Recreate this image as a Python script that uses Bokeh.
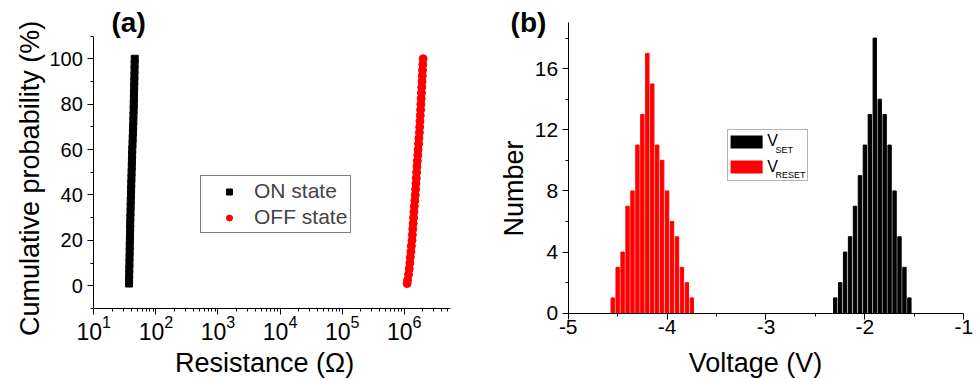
import math
from bokeh.plotting import figure
from bokeh.models import (Range1d, FixedTicker, Legend, LegendItem, Label, BoxAnnotation)
from bokeh.layouts import row
from bokeh.embed import file_html
from bokeh.resources import INLINE

FONT = "Liberation Sans"

# ---------------- Panel (a) data ----------------
cum_prob = [1, 2.5, 5, 7.5, 10, 12.5, 15, 17.5, 20, 22.5, 25, 27.5, 30, 32.5, 35, 37.5,
            40, 42.5, 45, 47.5, 50, 52.5, 55, 57.5, 60, 62.5, 65, 67.5, 70, 72.5, 75,
            77.5, 80, 82.5, 85, 87.5, 90, 92.5, 95, 97.5, 100]
on_res = [36.9, 37.0, 37.2, 37.3, 37.5, 37.6, 37.8, 37.9, 38.1, 38.3, 38.5, 38.6, 38.8,
          39.0, 39.2, 39.4, 39.7, 39.9, 40.1, 40.4, 40.6, 40.9, 41.1, 41.4, 41.6, 42.0,
          42.3, 42.7, 43.0, 43.3, 43.5, 43.8, 44.0, 44.2, 44.4, 44.7, 44.9, 45.1, 45.3,
          45.4, 45.6]
off_res = [1.11e6, 1.13e6, 1.17e6, 1.20e6, 1.23e6, 1.25e6, 1.28e6, 1.30e6, 1.33e6, 1.35e6,
           1.37e6, 1.39e6, 1.41e6, 1.43e6, 1.45e6, 1.48e6, 1.50e6, 1.52e6, 1.54e6, 1.56e6,
           1.58e6, 1.60e6, 1.62e6, 1.65e6, 1.67e6, 1.70e6, 1.72e6, 1.75e6, 1.77e6, 1.79e6,
           1.81e6, 1.83e6, 1.85e6, 1.87e6, 1.89e6, 1.91e6, 1.93e6, 1.95e6, 1.97e6, 1.99e6,
           2.01e6]
a_y_ticks = [0, 20, 40, 60, 80, 100]
a_y_minor = [-10, 10, 30, 50, 70, 90, 110]
a_x_ticks = [1e1, 1e2, 1e3, 1e4, 1e5, 1e6]

# ---------------- Panel (b) data ----------------
v_reset = [-4.55, -4.50, -4.45, -4.40, -4.35, -4.30, -4.25, -4.20, -4.15, -4.10, -4.05,
           -4.00, -3.95, -3.90, -3.85, -3.80, -3.75]
n_reset = [1, 3, 4, 7, 8, 11, 13, 17, 15, 11, 10, 8, 6, 5, 3, 2, 1]
v_set = [-2.30, -2.25, -2.20, -2.15, -2.10, -2.05, -2.00, -1.95, -1.90, -1.85, -1.80,
         -1.75, -1.70, -1.65, -1.60, -1.55]
n_set = [1, 2, 4, 5, 7, 9, 11, 13, 18, 14, 13, 11, 8, 5, 3, 1]
b_x_ticks = [-5, -4, -3, -2, -1]
b_x_minor = [-4.5, -3.5, -2.5, -1.5]
b_y_ticks = [0, 4, 8, 12, 16]
b_y_minor = [2, 6, 10, 14, 18]


def style_axis(ax, tick_size, standoff):
    ax.axis_line_color = "black"
    ax.axis_line_width = 1
    ax.major_tick_out = 6
    ax.major_tick_in = 0
    ax.minor_tick_out = 3
    ax.minor_tick_in = 0
    ax.major_tick_line_color = "black"
    ax.minor_tick_line_color = "black"
    ax.major_label_text_font = FONT
    ax.major_label_text_font_size = tick_size
    ax.major_label_text_color = "black"
    ax.major_label_standoff = standoff


def text(p, x, y, s, size, bold=False, angle=0.0, align="left"):
    p.add_layout(Label(x=x, y=y, text=s, text_font=FONT, text_font_size=size,
                       text_font_style="bold" if bold else "normal", angle=angle,
                       text_align=align, text_baseline="middle", text_color="black"))


# ---------------- Figure (a) ----------------
# frame covers window x 0..450, y 0..379; axes are fixed inside it
pa = figure(width=480, height=379, x_axis_type="log",
            x_range=Range1d(10 ** -0.5024, 10 ** 6.744), y_range=Range1d(-41.28, 125.68),
            output_backend="svg", toolbar_location=None,
            min_border_left=0, min_border_right=30, min_border_top=0, min_border_bottom=0)
pa.outline_line_color = None
pa.grid.visible = False

on_r = pa.scatter(on_res, cum_prob, marker="square", size=7, color="black")
off_r = pa.scatter(off_res, cum_prob, marker="circle", size=8, color="red")

xa = pa.xaxis[0]
ya = pa.yaxis[0]
xa.ticker = FixedTicker(ticks=a_x_ticks,
                        minor_ticks=[m * t for t in a_x_ticks for m in range(2, 10)])
ya.ticker = FixedTicker(ticks=a_y_ticks, minor_ticks=a_y_minor)
xa.fixed_location = -10
ya.fixed_location = 10
xa.bounds = (10, 10 ** 6.744)
ya.bounds = (-10, 110)
style_axis(xa, "23px", 1)
style_axis(ya, "20px", 5)

leg_a = Legend(items=[LegendItem(label="ON state", renderers=[on_r]),
                      LegendItem(label="OFF state", renderers=[off_r])],
               location=(200, 146), border_line_color="black", border_line_width=1,
               padding=3, spacing=2, glyph_width=50, glyph_height=15, label_standoff=0,
               label_text_font=FONT, label_text_font_size="21px", margin=0,
               background_fill_color="white", background_fill_alpha=1)
pa.add_layout(leg_a)

text(pa, 19.3, 115.8, "(a)", "28px", bold=True)
text(pa, 5610, -34.2, "Resistance (Ω)", "27px", align="center")
text(pa, 0.922, 47.3, "Cumulative probability (%)", "27px", angle=math.pi / 2,
     align="center")

# ---------------- Figure (b) ----------------
# frame covers window x 480..978, y 0..379
pb = figure(width=498, height=379, x_range=Range1d(-5.887, -0.851), y_range=Range1d(-4.34, 20.46),
            output_backend="svg", toolbar_location=None,
            min_border_left=0, min_border_right=0, min_border_top=0, min_border_bottom=0)
pb.outline_line_color = None
pb.grid.visible = False

pb.vbar(x=v_reset, top=n_reset, width=0.034, color="red")
pb.vbar(x=v_set, top=n_set, width=0.034, color="black")

xb = pb.xaxis[0]
yb = pb.yaxis[0]
xb.ticker = FixedTicker(ticks=b_x_ticks, minor_ticks=b_x_minor)
yb.ticker = FixedTicker(ticks=b_y_ticks, minor_ticks=b_y_minor)
xb.major_label_overrides = {t: str(t) for t in b_x_ticks}
xb.fixed_location = 0
yb.fixed_location = -5
xb.bounds = (-5, -1)
yb.bounds = (0, 19)
style_axis(xb, "21px", 1)
style_axis(yb, "21px", 4)

# legend with subscripts
pb.add_layout(BoxAnnotation(left=-3.389, right=-2.58, top=12.02, bottom=8.68,
                            fill_color="white", fill_alpha=1, line_color="black",
                            line_width=1))
pb.add_layout(BoxAnnotation(left=-3.358, right=-3.034, top=11.63, bottom=10.78,
                            fill_color="black", fill_alpha=1, line_color=None))
pb.add_layout(BoxAnnotation(left=-3.358, right=-3.034, top=9.99, bottom=9.14,
                            fill_color="red", fill_alpha=1, line_color=None))
text(pb, -2.988, 11.27, "V", "16px")
text(pb, -2.904, 10.70, "SET", "9px")
text(pb, -2.988, 9.59, "V", "16px")
text(pb, -2.904, 9.04, "RESET", "9px")

text(pb, -5.583, 18.99, "(b)", "28px", bold=True)
text(pb, -3.106, -3.29, "Voltage (V)", "27px", align="center")
text(pb, -5.553, 8.16, "Number", "27px", angle=math.pi / 2, align="center")

layout = row(pa, pb, spacing=0)
open("out.html", "w").write(file_html(layout, INLINE))
